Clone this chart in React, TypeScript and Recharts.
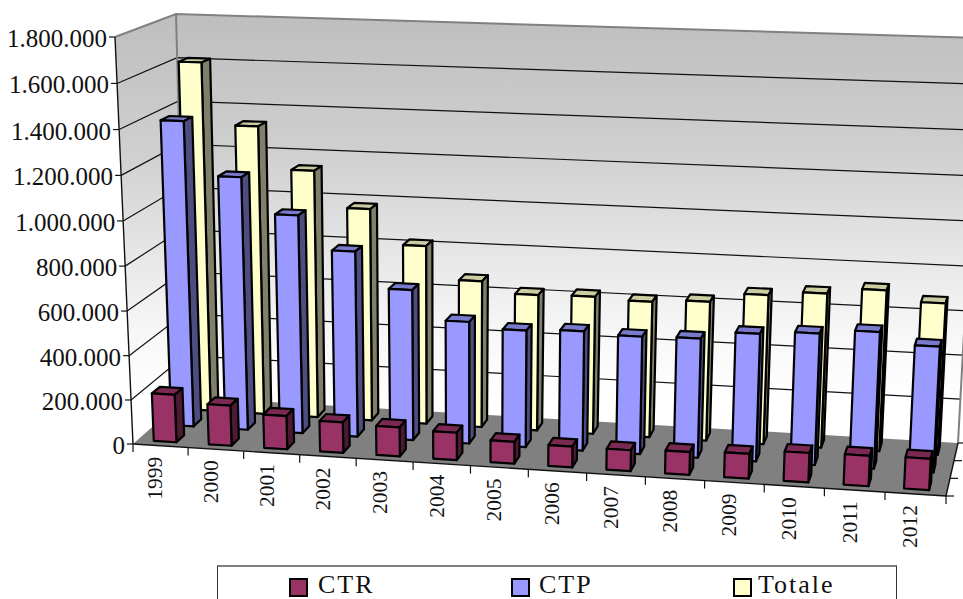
import { Bar, BarChart, Customized, Legend, XAxis, YAxis } from "recharts";

const years = ["1999", "2000", "2001", "2002", "2003", "2004", "2005", "2006", "2007", "2008", "2009", "2010", "2011", "2012"];
const ctr = [216000, 182000, 150000, 137000, 130000, 122000, 97000, 92000, 92000, 100000, 108000, 128000, 132000, 135000];
const ctp = [1390000, 1150000, 990000, 840000, 680000, 550000, 525000, 535000, 525000, 530000, 565000, 580000, 600000, 550000];
const totale = [1612000, 1332000, 1140000, 977000, 820000, 672000, 622000, 627000, 617000, 630000, 673000, 693000, 720000, 675000];
const yTicks = [0, 200000, 400000, 600000, 800000, 1000000, 1200000, 1400000, 1600000, 1800000];
const data = years.map((year, i) => ({ year, CTR: ctr[i], CTP: ctp[i], Totale: totale[i] }));

const legendItems = [
  { name: "CTR", color: "#993366", boxLeft: 71, textLeft: 100 },
  { name: "CTP", color: "#9999ff", boxLeft: 293, textLeft: 321 },
  { name: "Totale", color: "#ffffcc", boxLeft: 515, textLeft: 540 },
];

const FONT = "'Liberation Serif', serif";
const LEFT = 133;
const RIGHT = 946;
const TOP = 37;
const BOTTOM = 444;
const BAR_SIZE = 24;

// the eight corners of the 3D box as Excel drew it: [front, back] x [bottom, top] x [left, right]
const corners = {
  fbl: [133, 444], fbr: [946, 496], bbl: [186, 397], bbr: [958, 443],
  ftl: [115, 37], ftr: [968, 64], btl: [176, 14], btr: [980, 38],
};

const mix = (a: number, b: number, t: number) => a + (b - a) * t;

// takes flat chart coordinates (from the recharts scales) plus a depth 0..1
function project(x: number, y: number, d: number) {
  let u = (x - LEFT) / (RIGHT - LEFT);
  let w = (BOTTOM - y) / (BOTTOM - TOP);
  u = u - 0.055 * u * (1 - u);
  w = w - 0.03 * w * (1 - w);
  const out = [0, 1].map((k) => {
    const fb = mix(corners.fbl[k], corners.fbr[k], u);
    const ft = mix(corners.ftl[k], corners.ftr[k], u);
    const bb = mix(corners.bbl[k], corners.bbr[k], u);
    const bt = mix(corners.btl[k], corners.btr[k], u);
    return mix(mix(fb, ft, w), mix(bb, bt, w), d);
  });
  return { x: out[0], y: out[1] };
}

const poly = (pts: { x: number; y: number }[]) => pts.map((p) => `${p.x},${p.y}`).join(" ");

function Box3D(props: any) {
  const { x, y, width, height, fill, side, cap, d0, d1 } = props;
  const l = x;
  const r = x + width;
  const t = y;
  const b = y + height;
  const stroke = { stroke: "#000", strokeWidth: 2.2, strokeLinejoin: "round" as const };
  return (
    <g>
      <polygon points={poly([project(l, t, d0), project(r, t, d0), project(r, t, d1), project(l, t, d1)])} fill={cap} {...stroke} />
      <polygon points={poly([project(r, t, d0), project(r, t, d1), project(r, b, d1), project(r, b, d0)])} fill={side} {...stroke} />
      <polygon points={poly([project(l, t, d0), project(r, t, d0), project(r, b, d0), project(l, b, d0)])} fill={fill} {...stroke} />
    </g>
  );
}

function Walls() {
  const bl = project(LEFT, BOTTOM, 0);
  const br = project(RIGHT, BOTTOM, 0);
  const blb = project(LEFT, BOTTOM, 1);
  const brb = project(RIGHT, BOTTOM, 1);
  const tl = project(LEFT, TOP, 0);
  const tlb = project(LEFT, TOP, 1);
  const trb = project(RIGHT, TOP, 1);
  const cell = (RIGHT - LEFT) / years.length;
  return (
    <g>
      <defs>
        <linearGradient id="wall" gradientUnits="userSpaceOnUse" x1="0" y1="14" x2="0" y2="400">
          <stop offset="0" stopColor="#bebebe" />
          <stop offset="0.352" stopColor="#cfcfcf" />
          <stop offset="0.637" stopColor="#e8e8e8" />
          <stop offset="0.845" stopColor="#f8f8f8" />
          <stop offset="1" stopColor="#ffffff" />
        </linearGradient>
      </defs>
      <polygon points={poly([bl, tl, tlb, blb])} fill="url(#wall)" />
      <polygon points={poly([blb, tlb, trb, brb])} fill="url(#wall)" />
      <polygon points={poly([bl, br, brb, blb])} fill="#808080" />
      {yTicks.slice(1, -1).map((v) => {
        const y = BOTTOM - (v / 1800000) * (BOTTOM - TOP);
        const a = project(LEFT, y, 0);
        const b = project(LEFT, y, 1);
        const c = project(RIGHT, y, 1);
        return <polyline key={v} points={poly([a, b, c])} fill="none" stroke="#111" strokeWidth={1.2} />;
      })}
      <polyline points={poly([tl, tlb, trb])} fill="none" stroke="#808080" strokeWidth={2} />
      <line x1={tlb.x} y1={tlb.y} x2={blb.x} y2={blb.y} stroke="#808080" strokeWidth={2} />
      <line x1={trb.x} y1={trb.y} x2={brb.x} y2={brb.y} stroke="#808080" strokeWidth={2} />
      <line x1={tl.x} y1={tl.y} x2={bl.x} y2={bl.y} stroke="#111" strokeWidth={1.4} />
      <line x1={bl.x} y1={bl.y} x2={br.x} y2={br.y} stroke="#111" strokeWidth={1.4} />
      <line x1={br.x} y1={br.y} x2={brb.x} y2={brb.y} stroke="#111" strokeWidth={1.4} />
      {years.map((_, i) => {
        const p = project(LEFT + cell * i, BOTTOM, 0);
        return <line key={i} x1={p.x} y1={p.y} x2={p.x} y2={p.y + 8} stroke="#111" strokeWidth={1.2} />;
      })}
      <line x1={br.x} y1={br.y} x2={br.x} y2={br.y + 8} stroke="#111" strokeWidth={1.2} />
      {[0, 1 / 3, 2 / 3, 1].map((d) => {
        const p = project(RIGHT, BOTTOM, d);
        return <line key={d} x1={p.x} y1={p.y} x2={p.x + 8} y2={p.y} stroke="#111" strokeWidth={1.2} />;
      })}
    </g>
  );
}

function YTick({ y, payload }: any) {
  const p = project(LEFT, y, 0);
  return (
    <g>
      <line x1={p.x - 6} y1={p.y} x2={p.x} y2={p.y} stroke="#111" strokeWidth={1.2} />
      <text x={p.x - 8} y={p.y + 10} textAnchor="end" fontFamily={FONT} fontSize={25} fill="#111">
        {payload.value === 0 ? "0" : payload.value.toLocaleString("de-DE")}
      </text>
    </g>
  );
}

function XTick({ x, payload }: any) {
  const p = project(x, BOTTOM, 0);
  const tx = p.x + 2;
  const ty = p.y + 11;
  return (
    <text x={tx} y={ty} transform={`rotate(-90 ${tx} ${ty})`} textAnchor="end" fontFamily={FONT} fontSize={21.5} fill="#111">
      {payload.value}
    </text>
  );
}

function LegendBox() {
  return (
    <div style={{ position: "relative", width: 680, height: 50, boxSizing: "border-box", border: "1px solid #333", borderTop: "2px solid #808080", background: "#fff", fontFamily: FONT }}>
      {legendItems.map((item) => (
        <div key={item.name}>
          <div style={{ position: "absolute", left: item.boxLeft, top: 11, width: 15, height: 15, border: "2.5px solid #000", background: item.color }} />
          <span style={{ position: "absolute", left: item.textLeft, top: 5, fontSize: 26, lineHeight: "26px", letterSpacing: 2, color: "#111" }}>{item.name}</span>
        </div>
      ))}
    </div>
  );
}

export default function App() {
  return (
    <div style={{ position: "absolute", left: 0, top: 0, width: 963, height: 599, overflow: "hidden", background: "#fff" }}>
      <BarChart
        width={963}
        height={599}
        data={data}
        margin={{ top: TOP, right: 963 - RIGHT, left: LEFT - 60, bottom: 599 - BOTTOM - 30 }}
        barSize={BAR_SIZE}
        barGap={-BAR_SIZE}
      >
        <Customized component={Walls} />
        <XAxis dataKey="year" height={30} interval={0} tick={XTick} axisLine={false} tickLine={false} />
        <YAxis width={60} domain={[0, 1800000]} ticks={yTicks} interval={0} tick={YTick} axisLine={false} tickLine={false} />
        <Legend
          layout="horizontal"
          verticalAlign="middle"
          content={LegendBox}
          wrapperStyle={{ position: "absolute", left: 217, top: 565, width: 680, height: 50, bottom: "auto" }}
        />
        <Bar dataKey="Totale" isAnimationActive={false} shape={(p: any) => <Box3D {...p} fill="#ffffcc" side="#80806a" cap="#cccca3" d0={0.76} d1={0.91} />} />
        <Bar dataKey="CTP" isAnimationActive={false} shape={(p: any) => <Box3D {...p} fill="#9999ff" side="#4d4d80" cap="#7a7acc" d0={0.425} d1={0.575} />} />
        <Bar dataKey="CTR" isAnimationActive={false} shape={(p: any) => <Box3D {...p} fill="#993366" side="#4d1a33" cap="#7a2952" d0={0.09} d1={0.24} />} />
      </BarChart>
    </div>
  );
}
